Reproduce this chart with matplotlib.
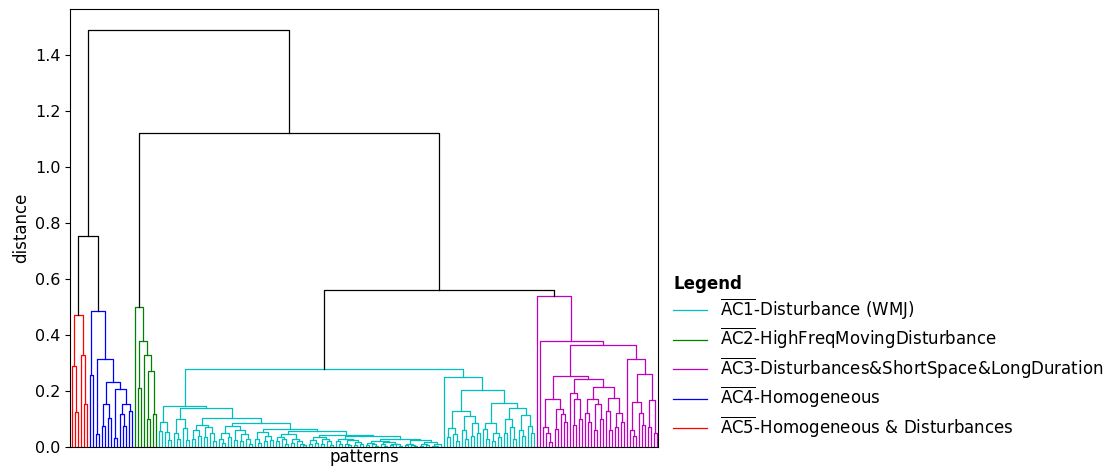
import matplotlib
matplotlib.use("Agg")
import matplotlib.pyplot as plt
from matplotlib.lines import Line2D

# ===================== merge trees: [distance, left, right], 0 = one pattern =====================
ac5_tree = [0.47, [0.29, 0, [0.124, 0, 0]], [0.33, 0, [0.152, 0, 0]]]

ac4_tree = [0.487, [0.258, 0, 0],
            [0.314, [0.046, 0, 0],
             [0.233, [0.154, [0.075, 0, 0], [0.102, 0, 0]],
              [0.208, [0.033, 0, 0], [0.154, [0.119, 0, [0.074, 0, 0]], [0.13, 0, 0]]]]]]

ac2_tree = [0.50, 0, [0.38, [0.21, 0, 0], [0.33, 0, [0.27, [0.10, 0, 0], [0.117, 0, 0]]]]]

# AC1 left part (long low staircase)
ac1_g0 = [0.09, [0.057, 0, 0], [0.055, 0, [0.025, 0, 0]]]
ac1_g1 = [0.099, [0.051, 0, [0.03, 0, 0]], [0.069, 0, [0.025, 0, 0]]]
ac1_g2 = [0.079, [0.06, [0.03, 0, 0], [0.04, 0, 0]], [0.07, [0.035, 0, 0], [0.05, 0, [0.02, 0, 0]]]]
ac1_g3 = [0.075, [0.05, [0.03, 0, [0.015, 0, 0]], [0.035, 0, 0]],
          [0.06, [0.025, 0, 0], [0.045, [0.02, 0, 0], [0.03, 0, [0.01, 0, 0]]]]]
ac1_g4 = [0.055, [0.03, 0, [0.015, 0, 0]], [0.04, [0.02, 0, 0], [0.025, 0, 0]]]
ac1_g5 = [0.045, [0.035, [0.02, 0, 0], [0.028, 0, [0.012, 0, 0]]],
          [0.03, [0.015, 0, 0], [0.022, 0, [0.01, 0, [0.006, 0, 0]]]]]
ac1_g6 = [0.035, [0.025, [0.01, 0, 0], [0.015, 0, 0]],
          [0.03, [0.012, 0, 0], [0.02, 0, [0.008, 0, 0]]]]
ac1_g7 = [0.03, [0.02, 0, [0.01, 0, 0]],
          [0.025, [0.012, 0, [0.006, 0, 0]], [0.018, [0.008, 0, 0], [0.01, 0, 0]]]]
ac1_g8 = [0.02, [0.015, [0.008, 0, 0], [0.01, 0, [0.004, 0, 0]]],
          [0.018, [0.01, 0, [0.005, 0, 0]], [0.012, [0.006, 0, 0], [0.009, 0, [0.003, 0, 0]]]]]
ac1_g9 = [0.025, [0.012, [0.006, 0, 0], [0.008, 0, [0.003, 0, 0]]],
          [0.018, [0.01, [0.004, 0, 0], [0.006, 0, 0]], [0.012, [0.005, 0, [0.002, 0, 0]], 0]]]
ac1_left = [0.146, ac1_g0,
            [0.141, ac1_g1,
             [0.1025, ac1_g2,
              [0.085, ac1_g3,
               [0.064, ac1_g4,
                [0.058, ac1_g5,
                 [0.043, ac1_g6,
                  [0.039, ac1_g7,
                   [0.028, ac1_g8, ac1_g9]]]]]]]]]

# AC1 right part
ac1_right = [0.249, 0,
             [0.204,
              [0.13, [0.067, [0.035, 0, 0], [0.048, 0, [0.02, 0, 0]]],
               [0.11, [0.06, 0, [0.03, 0, 0]], [0.085, [0.04, 0, 0], [0.05, 0, 0]]]],
              [0.156, [0.085, [0.065, 0, [0.03, 0, 0]], [0.05, [0.02, 0, 0], [0.035, 0, 0]]],
               [0.14, [0.10, [0.05, 0, 0], [0.07, 0, [0.03, 0, 0]]],
                [0.115, [0.06, 0, [0.04, 0, 0]], [0.075, 0, [0.05, 0, 0]]]]]]]
ac1_tree = [0.28, ac1_left, ac1_right]

ac3_a = [0.171, [0.07, 0, [0.05, 0, [0.018, 0, 0]]], [0.136, [0.063, 0, 0], [0.118, 0, [0.09, 0, 0]]]]
ac3_b = [0.242, [0.192, 0, [0.17, [0.08, 0, 0], [0.10, 0, 0]]],
         [0.215, [0.17, [0.12, 0, [0.09, 0, 0]], [0.155, [0.06, 0, 0], [0.10, 0, 0]]],
          [0.174, [0.13, 0, [0.06, 0, 0]], [0.12, [0.07, 0, 0], [0.09, 0, 0]]]]]
ac3_c = [0.313, 0, [0.26, [0.162, [0.06, 0, [0.04, 0, 0]], [0.12, 0, [0.08, 0, 0]]],
                    [0.167, [0.07, 0, 0], [0.05, 0, 0]]]]
ac3_tree = [0.54, 0, [0.38, 0, [0.364, [0.254, ac3_a, ac3_b], ac3_c]]]

# top level merges between the clusters
top_tree = [1.49, [0.755, "AC5", "AC4"], [1.12, "AC2", [0.56, "AC1", "AC3"]]]

cluster_names = ["AC1", "AC2", "AC3", "AC4", "AC5"]
cluster_trees = [ac1_tree, ac2_tree, ac3_tree, ac4_tree, ac5_tree]
cluster_colors = ["c", "g", "m", "b", "r"]
cluster_labels = ["Disturbance (WMJ)", "HighFreqMovingDisturbance",
                  "Disturbances&ShortSpace&LongDuration", "Homogeneous",
                  "Homogeneous & Disturbances"]

trees = dict(zip(cluster_names, cluster_trees))
colors = dict(zip(cluster_names, cluster_colors))


# ===================== dendrogram layout (scipy style: leaf i at 5 + 10 i) =====================
def walk(node, color, count, links):
    if isinstance(node, str):
        return walk(trees[node], colors[node], count, links)
    if not isinstance(node, list):
        x = 5 + 10 * count[0]
        count[0] += 1
        return x, 0.0
    h, left, right = node
    xl, yl = walk(left, color, count, links)
    xr, yr = walk(right, color, count, links)
    links.append(([xl, xl, xr, xr], [yl, h, h, yr], color))
    return (xl + xr) / 2, h


links = []
count = [0]
walk(top_tree, "k", count, links)
n_leaves = count[0]

fig = plt.figure(figsize=(11.06, 4.72), dpi=100)
ax = fig.add_axes([0.0633, 0.053, 0.532, 0.928])

for xs, ys, c in links:
    ax.plot(xs, ys, color=c, lw=0.9)

ax.set_xlim(0, 10 * n_leaves)
ax.set_ylim(0, top_tree[0] * 1.05)
ax.set_xticks([])
ax.set_yticks([0.0, 0.2, 0.4, 0.6, 0.8, 1.0, 1.2, 1.4])
ax.set_yticklabels(["0.0", "0.2", "0.4", "0.6", "0.8", "1.0", "1.2", "1.4"])
ax.tick_params(labelsize=11.5)
ax.set_xlabel("patterns", fontsize=12, labelpad=1)
ax.set_ylabel("distance", fontsize=12, labelpad=3)

handles = [Line2D([0], [0], color=c, lw=0.9) for c in cluster_colors]
labels = [r"$\overline{\mathrm{%s}}$-%s" % (nm, lb) for nm, lb in zip(cluster_names, cluster_labels)]
leg = ax.legend(handles, labels, title="Legend", loc="center left",
                bbox_to_anchor=(1.0, 0.205), frameon=False, fontsize=12,
                labelspacing=0.26,
                title_fontproperties={"weight": "bold", "size": 12})
leg._legend_box.align = "left"

fig.savefig("out.png", dpi=100)
